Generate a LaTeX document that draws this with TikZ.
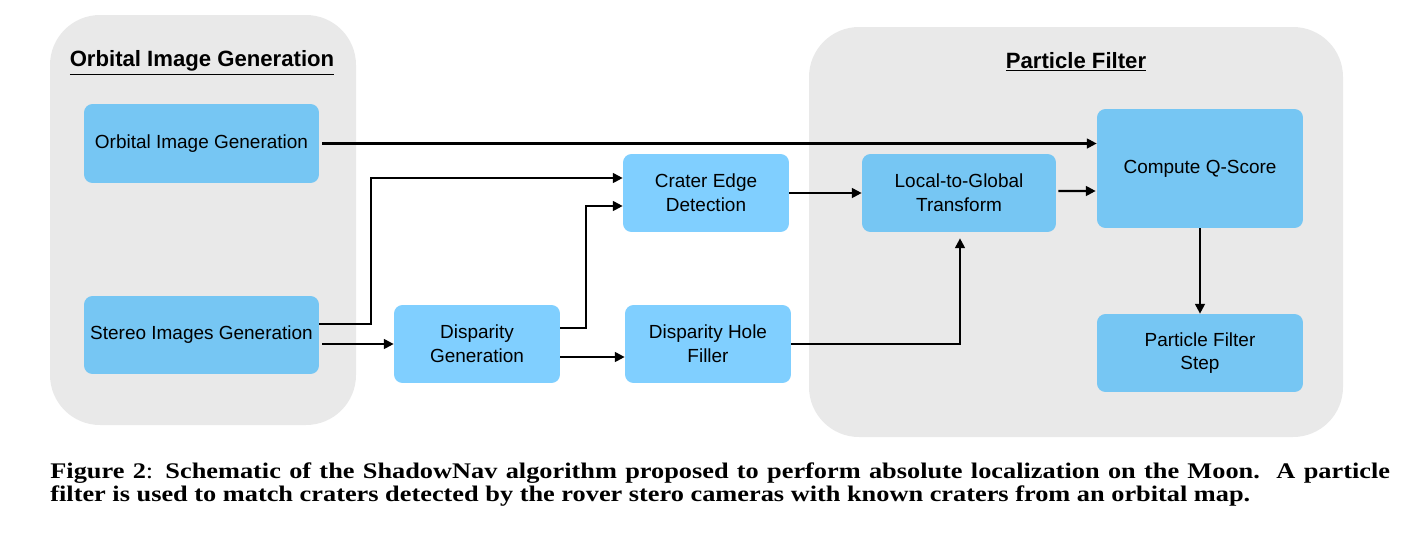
\documentclass[tikz,border=0pt]{standalone}
\usepackage{fontspec}
\setmainfont{Liberation Serif}
\setsansfont{Liberation Sans}
\newfontfamily\capfont[FakeStretch=1.18]{Liberation Serif}
\usetikzlibrary{arrows.meta,calc}
\definecolor{panelgray}{RGB}{233,233,233}
\definecolor{boxblue}{RGB}{118,198,243}
\definecolor{boxlight}{RGB}{128,207,255}
\tikzset{
    panel/.style={fill=panelgray, draw=none, rounded corners=1cm},
    block/.style={fill=boxblue, draw=none, rounded corners=0.17cm, align=center,
        font=\sffamily\fontsize{10.8}{13.5}\selectfont, inner sep=0pt},
    lightblock/.style={block, fill=boxlight},
    heading/.style={font=\sffamily\bfseries\fontsize{12.6}{15}\selectfont},
    flow/.style={line width=1.15pt, -{Triangle[length=5.6pt,width=5.6pt]}}
}
\begin{document}
\begin{tikzpicture}[x=0.02cm, y=-0.02cm]
    \useasboundingbox (0,0) rectangle (1423,541);

    % Panels
    \fill[panel] (50,15) rectangle (356,425);
    \fill[panel] (809,27) rectangle (1343,437);
    \node[heading] (orbtitle) at (202,63) {\underline{Orbital Image Generation}};
    \node[heading] (pftitle) at (1076,62) {\underline{Particle Filter}};

    % Blocks
    \node[block, minimum width=4.7cm, minimum height=1.58cm] (orbital) at (201.5,143.5) {Orbital Image Generation};
    \node[block, minimum width=4.7cm, minimum height=1.56cm] (stereo) at (201.5,335) {Stereo Images Generation};
    \node[lightblock, minimum width=3.32cm, minimum height=1.56cm] (dispgen) at (477,344) {Disparity\\Generation};
    \node[lightblock, minimum width=3.32cm, minimum height=1.56cm] (crater) at (706,193) {Crater Edge\\Detection};
    \node[lightblock, minimum width=3.32cm, minimum height=1.56cm] (holefill) at (708,344) {Disparity Hole\\Filler};
    \node[block, minimum width=3.88cm, minimum height=1.56cm] (local) at (959,193) {Local-to-Global\\Transform};
    \node[block, minimum width=4.12cm, minimum height=2.38cm] (qscore) at (1200,168.5) {Compute Q-Score};
    \node[block, minimum width=4.12cm, minimum height=1.56cm] (pfstep) at (1200,353) {Particle Filter\\Step};

    % Arrows
    \draw[flow] ($(orbital.east)+(3,0)$) -- (orbital.east -| qscore.west);
    \draw[flow] ($(stereo.east)+(0,-11)$) -- (371,324) -- (371,178) -- ($(crater.west)+(0,-15)$);
    \draw[flow] ($(stereo.east)+(3,9)$) -- ($(dispgen.west)+(0,0)$);
    \draw[flow] ($(dispgen.east)+(0,-16)$) -- (586,328) -- (586,206) -- ($(crater.west)+(0,13)$);
    \draw[flow] ($(dispgen.east)+(0,13)$) -- ($(holefill.west)+(0,13)$);
    \draw[flow] (crater.east) -- (local.west);
    \draw[flow] ($(local.east)+(2,-2)$) -- ($(qscore.west)+(-1,22.5)$);
    \draw[flow] (holefill.east) -- (960,344) -- ($(local.south)+(1,6)$);
    \draw[flow] (qscore.south) -- (pfstep.north);

    % Caption
    \node[anchor=north west, inner sep=0pt] (caption) at (50,462) {\parbox{26.8cm}{\capfont\fontsize{12.7}{13.6}\selectfont\bfseries
        Figure 2\textmd{:} Schematic of the ShadowNav algorithm proposed to perform absolute localization on the Moon.\ \ A particle\linebreak
        filter is used to match craters detected by the rover stero cameras with known craters from an orbital map.}};
\end{tikzpicture}
\end{document}
